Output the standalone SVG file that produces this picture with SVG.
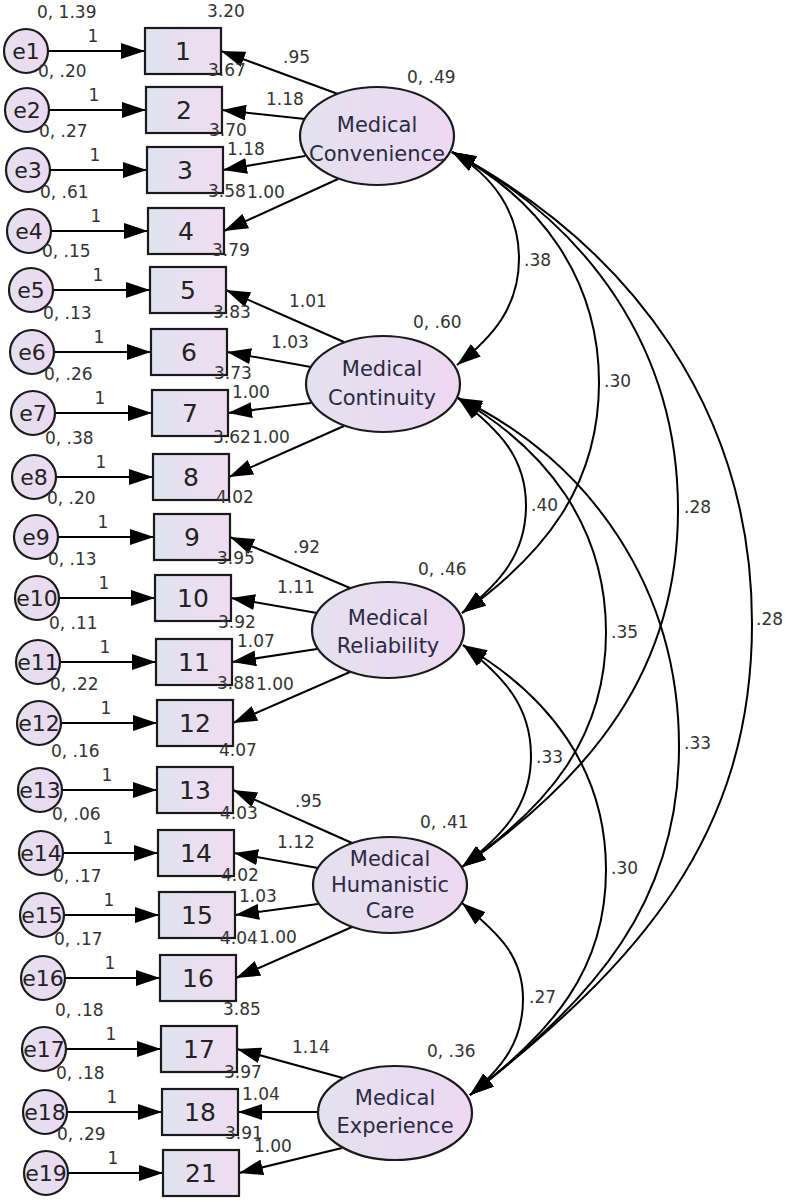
<svg xmlns="http://www.w3.org/2000/svg" width="786" height="1202" viewBox="0 0 786 1202">
<defs>
<linearGradient id="gb" x1="0" y1="0" x2="1" y2="0"><stop offset="0" stop-color="#e0e3ef"/><stop offset="1" stop-color="#f0dcf2"/></linearGradient>
<linearGradient id="gc" x1="0" y1="0" x2="1" y2="0"><stop offset="0" stop-color="#e3e1ef"/><stop offset="1" stop-color="#edd8f1"/></linearGradient>
<marker id="ah" viewBox="0 0 24 16" refX="24" refY="8" markerWidth="24" markerHeight="16" markerUnits="userSpaceOnUse" orient="auto-start-reverse"><path d="M0,0 L24,8 L0,16 z" fill="#000"/></marker>
<style>
.ln{stroke:#000;stroke-width:2;fill:none;marker-end:url(#ah)}
.cv{stroke:#000;stroke-width:2;fill:none;marker-start:url(#ah);marker-end:url(#ah)}
.bx{fill:url(#gb);stroke:#1a1a1a;stroke-width:2.2}
.ci{fill:url(#gc);stroke:#1a1a1a;stroke-width:2.2}
.el{fill:url(#gc);stroke:#1a1a1a;stroke-width:2.2}
text{font-family:"DejaVu Sans","Liberation Sans",sans-serif}
.n{font-size:17px;fill:#333}
.m{font-size:17px;fill:#333;text-anchor:middle}
.b{font-size:25px;fill:#222;text-anchor:middle}
.e{font-size:22px;fill:#222;text-anchor:middle}
.l{font-size:21px;fill:#2a2a44;text-anchor:middle}
</style>
</defs>
<g id="connectors">
<line class="ln" x1="48" y1="51" x2="145" y2="51"/>
<line class="ln" x1="49" y1="110" x2="146" y2="110"/>
<line class="ln" x1="50" y1="170" x2="147" y2="170"/>
<line class="ln" x1="51" y1="231" x2="148" y2="231"/>
<line class="ln" x1="53" y1="290" x2="150" y2="290"/>
<line class="ln" x1="54" y1="352" x2="151" y2="352"/>
<line class="ln" x1="55" y1="413" x2="152" y2="413"/>
<line class="ln" x1="56" y1="477" x2="153" y2="477"/>
<line class="ln" x1="58" y1="537" x2="154" y2="537"/>
<line class="ln" x1="59" y1="598" x2="155" y2="598"/>
<line class="ln" x1="60" y1="662" x2="156" y2="662"/>
<line class="ln" x1="61" y1="723" x2="157" y2="723"/>
<line class="ln" x1="62" y1="790" x2="157" y2="790"/>
<line class="ln" x1="63" y1="853" x2="158" y2="853"/>
<line class="ln" x1="64" y1="915" x2="159" y2="915"/>
<line class="ln" x1="65" y1="978" x2="160" y2="978"/>
<line class="ln" x1="66" y1="1049" x2="161" y2="1049"/>
<line class="ln" x1="67" y1="1112" x2="162" y2="1112"/>
<line class="ln" x1="68" y1="1173" x2="163" y2="1173"/>
<line class="ln" x1="338" y1="94" x2="221" y2="51"/>
<line class="ln" x1="305" y1="119" x2="222" y2="110"/>
<line class="ln" x1="305" y1="156" x2="223" y2="170"/>
<line class="ln" x1="338" y1="179" x2="224" y2="231"/>
<line class="ln" x1="344" y1="342" x2="226" y2="290"/>
<line class="ln" x1="311" y1="367" x2="227" y2="352"/>
<line class="ln" x1="311" y1="403" x2="228" y2="413"/>
<line class="ln" x1="344" y1="426" x2="229" y2="477"/>
<line class="ln" x1="350" y1="588" x2="230" y2="537"/>
<line class="ln" x1="317" y1="613" x2="231" y2="598"/>
<line class="ln" x1="317" y1="649" x2="232" y2="662"/>
<line class="ln" x1="350" y1="672" x2="233" y2="723"/>
<line class="ln" x1="352" y1="843" x2="233" y2="790"/>
<line class="ln" x1="318" y1="868" x2="234" y2="853"/>
<line class="ln" x1="318" y1="904" x2="235" y2="915"/>
<line class="ln" x1="352" y1="927" x2="236" y2="978"/>
<line class="ln" x1="343" y1="1078" x2="237" y2="1049"/>
<line class="ln" x1="318" y1="1112" x2="238" y2="1112"/>
<line class="ln" x1="342" y1="1148" x2="239" y2="1173"/>
<path class="cv" d="M452,152 C492,175 519,211 519,258.5 C519,306 494,336 457,365"/>
<path class="cv" d="M452,152 C540,199 599,279 599,382.5 C599,486 544,555 462,613"/>
<path class="cv" d="M452,152 C588,224 678,349 678,509.5 C678,670 592,776 462,867"/>
<path class="cv" d="M452,152 C632,248 752,411 752,623.5 C752,836 639,963 470,1095"/>
<path class="cv" d="M458,398 C499,430 526,457 526,505.5 C526,554 500,583 462,613"/>
<path class="cv" d="M458,398 C547,449 606,527 606,632.5 C606,738 548,806 462,867"/>
<path class="cv" d="M458,398 C591,460 679,590 679,746.5 C679,903 595,997 470,1095"/>
<path class="cv" d="M463,645 C504,677 531,706 531,756 C531,806 503,835 462,867"/>
<path class="cv" d="M463,645 C549,695 606,769 606,870 C606,971 552,1031 470,1095"/>
<path class="cv" d="M462,903 C499,934 523,956 523,999 C523,1042 502,1068 470,1095"/>
</g>
<g id="error-nodes">
<g id="e1"><circle class="ci" cx="26" cy="51" r="22"/><text class="e" x="26" y="59">e1</text><text class="n" x="37" y="18">0, 1.39</text></g>
<g id="e2"><circle class="ci" cx="27" cy="110" r="22"/><text class="e" x="27" y="118">e2</text><text class="n" x="38" y="77">0, .20</text></g>
<g id="e3"><circle class="ci" cx="28" cy="170" r="22"/><text class="e" x="28" y="178">e3</text><text class="n" x="39" y="137">0, .27</text></g>
<g id="e4"><circle class="ci" cx="29" cy="231" r="22"/><text class="e" x="29" y="239">e4</text><text class="n" x="40" y="198">0, .61</text></g>
<g id="e5"><circle class="ci" cx="31" cy="290" r="22"/><text class="e" x="31" y="298">e5</text><text class="n" x="42" y="257">0, .15</text></g>
<g id="e6"><circle class="ci" cx="32" cy="352" r="22"/><text class="e" x="32" y="360">e6</text><text class="n" x="43" y="319">0, .13</text></g>
<g id="e7"><circle class="ci" cx="33" cy="413" r="22"/><text class="e" x="33" y="421">e7</text><text class="n" x="44" y="380">0, .26</text></g>
<g id="e8"><circle class="ci" cx="34" cy="477" r="22"/><text class="e" x="34" y="485">e8</text><text class="n" x="45" y="444">0, .38</text></g>
<g id="e9"><circle class="ci" cx="36" cy="537" r="22"/><text class="e" x="36" y="545">e9</text><text class="n" x="47" y="504">0, .20</text></g>
<g id="e10"><circle class="ci" cx="37" cy="598" r="22"/><text class="e" x="37" y="606">e10</text><text class="n" x="48" y="565">0, .13</text></g>
<g id="e11"><circle class="ci" cx="38" cy="662" r="22"/><text class="e" x="38" y="670">e11</text><text class="n" x="49" y="629">0, .11</text></g>
<g id="e12"><circle class="ci" cx="39" cy="723" r="22"/><text class="e" x="39" y="731">e12</text><text class="n" x="50" y="690">0, .22</text></g>
<g id="e13"><circle class="ci" cx="40" cy="790" r="22"/><text class="e" x="40" y="798">e13</text><text class="n" x="51" y="757">0, .16</text></g>
<g id="e14"><circle class="ci" cx="41" cy="853" r="22"/><text class="e" x="41" y="861">e14</text><text class="n" x="52" y="820">0, .06</text></g>
<g id="e15"><circle class="ci" cx="42" cy="915" r="22"/><text class="e" x="42" y="923">e15</text><text class="n" x="53" y="882">0, .17</text></g>
<g id="e16"><circle class="ci" cx="43" cy="978" r="22"/><text class="e" x="43" y="986">e16</text><text class="n" x="54" y="945">0, .17</text></g>
<g id="e17"><circle class="ci" cx="44" cy="1049" r="22"/><text class="e" x="44" y="1057">e17</text><text class="n" x="55" y="1016">0, .18</text></g>
<g id="e18"><circle class="ci" cx="45" cy="1112" r="22"/><text class="e" x="45" y="1120">e18</text><text class="n" x="56" y="1079">0, .18</text></g>
<g id="e19"><circle class="ci" cx="46" cy="1173" r="22"/><text class="e" x="46" y="1181">e19</text><text class="n" x="57" y="1140">0, .29</text></g>
</g>
<g id="indicator-nodes">
<g id="v1"><rect class="bx" x="145" y="28" width="76" height="46"/><text class="b" x="183" y="60">1</text><text class="n" x="207" y="17">3.20</text></g>
<g id="v2"><rect class="bx" x="146" y="87" width="76" height="46"/><text class="b" x="184" y="119">2</text><text class="n" x="208" y="76">3.67</text></g>
<g id="v3"><rect class="bx" x="147" y="147" width="76" height="46"/><text class="b" x="185" y="179">3</text><text class="n" x="209" y="136">3.70</text></g>
<g id="v4"><rect class="bx" x="148" y="208" width="76" height="46"/><text class="b" x="186" y="240">4</text><text class="n" x="208" y="197">3.58</text></g>
<g id="v5"><rect class="bx" x="150" y="267" width="76" height="46"/><text class="b" x="188" y="299">5</text><text class="n" x="212" y="256">3.79</text></g>
<g id="v6"><rect class="bx" x="151" y="329" width="76" height="46"/><text class="b" x="189" y="361">6</text><text class="n" x="213" y="318">3.83</text></g>
<g id="v7"><rect class="bx" x="152" y="390" width="76" height="46"/><text class="b" x="190" y="422">7</text><text class="n" x="214" y="379">3.73</text></g>
<g id="v8"><rect class="bx" x="153" y="454" width="76" height="46"/><text class="b" x="191" y="486">8</text><text class="n" x="213" y="443">3.62</text></g>
<g id="v9"><rect class="bx" x="154" y="514" width="76" height="46"/><text class="b" x="192" y="546">9</text><text class="n" x="216" y="503">4.02</text></g>
<g id="v10"><rect class="bx" x="155" y="575" width="76" height="46"/><text class="b" x="193" y="607">10</text><text class="n" x="217" y="564">3.95</text></g>
<g id="v11"><rect class="bx" x="156" y="639" width="76" height="46"/><text class="b" x="194" y="671">11</text><text class="n" x="218" y="628">3.92</text></g>
<g id="v12"><rect class="bx" x="157" y="700" width="76" height="46"/><text class="b" x="195" y="732">12</text><text class="n" x="217" y="689">3.88</text></g>
<g id="v13"><rect class="bx" x="157" y="767" width="76" height="46"/><text class="b" x="195" y="799">13</text><text class="n" x="219" y="756">4.07</text></g>
<g id="v14"><rect class="bx" x="158" y="830" width="76" height="46"/><text class="b" x="196" y="862">14</text><text class="n" x="220" y="819">4.03</text></g>
<g id="v15"><rect class="bx" x="159" y="892" width="76" height="46"/><text class="b" x="197" y="924">15</text><text class="n" x="221" y="881">4.02</text></g>
<g id="v16"><rect class="bx" x="160" y="955" width="76" height="46"/><text class="b" x="198" y="987">16</text><text class="n" x="220" y="944">4.04</text></g>
<g id="v17"><rect class="bx" x="161" y="1026" width="76" height="46"/><text class="b" x="199" y="1058">17</text><text class="n" x="223" y="1015">3.85</text></g>
<g id="v18"><rect class="bx" x="162" y="1089" width="76" height="46"/><text class="b" x="200" y="1121">18</text><text class="n" x="224" y="1078">3.97</text></g>
<g id="v21"><rect class="bx" x="163" y="1150" width="76" height="46"/><text class="b" x="201" y="1182">21</text><text class="n" x="225" y="1139">3.91</text></g>
</g>
<g id="latent-nodes">
<g id="convenience"><ellipse class="el" cx="377" cy="136" rx="77" ry="49"/><text class="l" x="377" y="132">Medical</text><text class="l" x="377" y="161">Convenience</text><text class="n" x="407" y="83">0, .49</text></g>
<g id="continuity"><ellipse class="el" cx="383" cy="384" rx="77" ry="48"/><text class="l" x="382" y="376">Medical</text><text class="l" x="382" y="405">Continuity</text><text class="n" x="413" y="328">0, .60</text></g>
<g id="reliability"><ellipse class="el" cx="388" cy="630" rx="76" ry="48"/><text class="l" x="388" y="625">Medical</text><text class="l" x="388" y="653">Reliability</text><text class="n" x="418" y="575">0, .46</text></g>
<g id="humanistic"><ellipse class="el" cx="390" cy="885" rx="77" ry="48"/><text class="l" x="390" y="866">Medical</text><text class="l" x="390" y="892">Humanistic</text><text class="l" x="390" y="918">Care</text><text class="n" x="420" y="828">0, .41</text></g>
<g id="experience"><ellipse class="el" cx="395" cy="1113" rx="77" ry="47"/><text class="l" x="395" y="1105">Medical</text><text class="l" x="395" y="1133">Experience</text><text class="n" x="427" y="1057">0, .36</text></g>
</g>
<g id="edge-labels">
<text class="m" x="93" y="42">1</text><text class="m" x="94" y="101">1</text><text class="m" x="95" y="161">1</text><text class="m" x="96" y="222">1</text>
<text class="m" x="98" y="281">1</text><text class="m" x="99" y="343">1</text><text class="m" x="100" y="404">1</text><text class="m" x="101" y="468">1</text>
<text class="m" x="103" y="528">1</text><text class="m" x="104" y="589">1</text><text class="m" x="105" y="653">1</text><text class="m" x="106" y="714">1</text>
<text class="m" x="107" y="781">1</text><text class="m" x="108" y="844">1</text><text class="m" x="109" y="906">1</text><text class="m" x="110" y="969">1</text>
<text class="m" x="111" y="1040">1</text><text class="m" x="112" y="1103">1</text><text class="m" x="113" y="1164">1</text>
<text class="n" x="283" y="63">.95</text><text class="n" x="266" y="105">1.18</text><text class="n" x="227" y="155">1.18</text><text class="n" x="247" y="198">1.00</text>
<text class="n" x="289" y="307">1.01</text><text class="n" x="271" y="348">1.03</text><text class="n" x="232" y="398">1.00</text><text class="n" x="252" y="443">1.00</text>
<text class="n" x="293" y="553">.92</text><text class="n" x="277" y="593">1.11</text><text class="n" x="237" y="647">1.07</text><text class="n" x="256" y="690">1.00</text>
<text class="n" x="295" y="807">.95</text><text class="n" x="277" y="848">1.12</text><text class="n" x="239" y="902">1.03</text><text class="n" x="259" y="943">1.00</text>
<text class="n" x="292" y="1053">1.14</text><text class="n" x="242" y="1100">1.04</text><text class="n" x="254" y="1152">1.00</text>
<text class="n" x="524" y="266">.38</text><text class="n" x="604" y="387">.30</text><text class="n" x="684" y="513">.28</text><text class="n" x="756" y="625">.28</text>
<text class="n" x="531" y="511">.40</text><text class="n" x="611" y="638">.35</text><text class="n" x="684" y="749">.33</text>
<text class="n" x="536" y="763">.33</text><text class="n" x="611" y="874">.30</text><text class="n" x="529" y="1003">.27</text>
</g>
</svg>
